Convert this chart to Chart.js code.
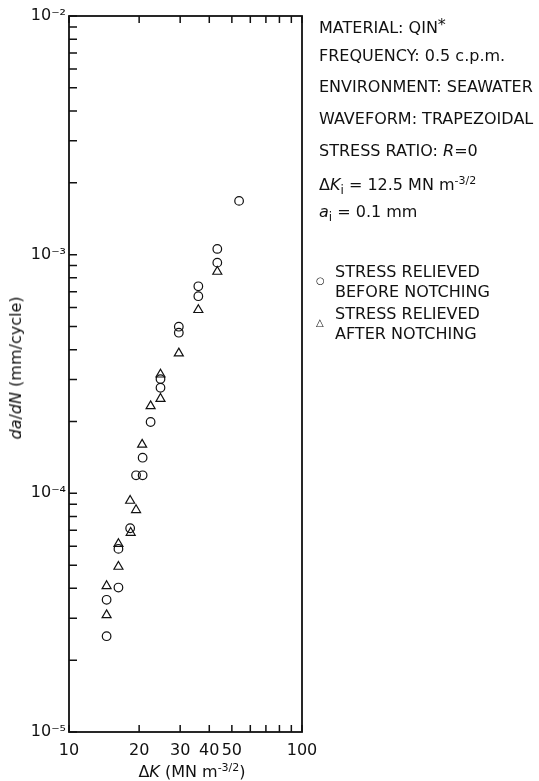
<!DOCTYPE html>
<html>
<head>
<meta charset="utf-8">
<script src="https://cdn.jsdelivr.net/npm/chart.js@4"></script>
<style>
html, body { margin: 0; padding: 0; background: #fff; }
#wrap { position: relative; width: 539px; height: 781px; }
#myChart { position: absolute; left: 0; top: 0; }
.txt { position: absolute; font-family: "DejaVu Sans", sans-serif; font-size: 16px; color: #111; white-space: nowrap; line-height: 1; }
.txt sup { font-size: 11px; vertical-align: 6px; }
.txt sub { font-size: 12px; vertical-align: -4px; }
.mk { position: absolute; font-family: "DejaVu Sans", sans-serif; font-size: 10px; color: #111; line-height: 1; }
</style>
</head>
<body>
<div id="wrap">
  <canvas id="myChart" width="539" height="781"></canvas>

  <div class="txt" style="left:319px;top:17px">MATERIAL: QIN<sup style="font-size:16px;vertical-align:3px">*</sup></div>
  <div class="txt" style="left:319px;top:48px">FREQUENCY: 0.5 c.p.m.</div>
  <div class="txt" style="left:319px;top:79px">ENVIRONMENT: SEAWATER</div>
  <div class="txt" style="left:319px;top:111px">WAVEFORM: TRAPEZOIDAL</div>
  <div class="txt" style="left:319px;top:143px">STRESS RATIO: <i>R</i>=0</div>
  <div class="txt" style="left:319px;top:175px">Δ<i>K</i><sub>i</sub> = 12.5 MN m<sup>-3/2</sup></div>
  <div class="txt" style="left:319px;top:204px"><i>a</i><sub>i</sub> = 0.1 mm</div>

  <div class="mk" style="left:316px;top:276px">○</div>
  <div class="txt" style="left:335px;top:264px">STRESS RELIEVED</div>
  <div class="txt" style="left:335px;top:284px">BEFORE NOTCHING</div>
  <div class="mk" style="left:316px;top:318px">△</div>
  <div class="txt" style="left:335px;top:306px">STRESS RELIEVED</div>
  <div class="txt" style="left:335px;top:326px">AFTER NOTCHING</div>

  <div class="txt" style="left:16px;top:368px;transform:translate(-50%,-50%) rotate(-90deg)"><i>da</i>/<i>dN</i> (mm/cycle)</div>
  <div class="txt" style="left:192px;top:771px;transform:translate(-50%,-50%)">Δ<i>K</i> (MN m<sup>-3/2</sup>)</div>
</div>

<script>
// stress relieved before notching (circles)
const beforeK = [14.5, 14.5, 16.3, 16.3, 18.3, 19.4, 20.7, 20.7, 22.4, 24.7, 24.7, 29.6, 29.6, 35.9, 35.9, 43.3, 43.3, 53.7];
const beforeRate = [2.52e-5, 3.58e-5, 4.03e-5, 5.85e-5, 7.14e-5, 1.19e-4, 1.19e-4, 1.41e-4, 1.99e-4, 2.77e-4, 3.01e-4, 4.71e-4, 4.99e-4, 6.7e-4, 7.37e-4, 9.26e-4, 1.057e-3, 1.68e-3];

// stress relieved after notching (triangles)
const afterK = [14.5, 14.5, 16.3, 16.3, 18.4, 18.3, 19.4, 20.6, 22.4, 24.7, 24.7, 29.6, 35.9, 43.3];
const afterRate = [3.09e-5, 4.09e-5, 4.93e-5, 6.14e-5, 6.84e-5, 9.32e-5, 8.52e-5, 1.6e-4, 2.32e-4, 2.49e-4, 3.15e-4, 3.86e-4, 5.87e-4, 8.49e-4];

const xLabels = [10, 20, 30, 40, 50, 100];
const yLabels = { '-5': '10⁻⁵', '-4': '10⁻⁴', '-3': '10⁻³', '-2': '10⁻²' };

const font = '"DejaVu Sans", sans-serif';

// mantissa of a log tick (1..9 for the ticks we want)
function mant(v) {
    const e = Math.floor(Math.log10(v) + 1e-9);
    return v / Math.pow(10, e);
}
function wholeMant(v) {
    const m = mant(v);
    return Math.abs(m - Math.round(m)) < 1e-6;
}

const frame = {
    id: 'frame',
    afterDraw(chart) {
        const ctx = chart.ctx;
        const a = chart.chartArea;
        const x = chart.scales.x, y = chart.scales.y;
        ctx.save();
        ctx.strokeStyle = '#111';
        ctx.lineWidth = 1.8;
        ctx.strokeRect(a.left, a.top, a.right - a.left, a.bottom - a.top);
        ctx.lineWidth = 1.5;
        ctx.beginPath();
        x.ticks.forEach(function (t) {
            if (!wholeMant(t.value)) return;
            const px = x.getPixelForValue(t.value);
            ctx.moveTo(px, a.bottom); ctx.lineTo(px, a.bottom - 7);
            ctx.moveTo(px, a.top); ctx.lineTo(px, a.top + 7);
        });
        y.ticks.forEach(function (t) {
            if (!wholeMant(t.value)) return;
            const py = y.getPixelForValue(t.value);
            ctx.moveTo(a.left, py); ctx.lineTo(a.left + 8, py);
        });
        ctx.stroke();
        ctx.restore();
    }
};

const pts = (xs, ys) => xs.map((v, i) => ({ x: v, y: ys[i] }));

const ctx = document.getElementById('myChart');
new Chart(ctx, {
    type: 'scatter',
    data: {
        datasets: [{
            label: 'STRESS RELIEVED BEFORE NOTCHING',
            data: pts(beforeK, beforeRate),
            pointStyle: 'circle',
            pointRadius: 4.3,
            borderColor: '#111',
            borderWidth: 1.2,
            backgroundColor: 'rgba(0,0,0,0)'
        }, {
            label: 'STRESS RELIEVED AFTER NOTCHING',
            data: pts(afterK, afterRate),
            pointStyle: 'triangle',
            pointRadius: 5.2,
            borderColor: '#111',
            borderWidth: 1.2,
            backgroundColor: 'rgba(0,0,0,0)'
        }]
    },
    options: {
        responsive: false,
        animation: false,
        layout: { padding: { top: 16, right: 237, left: 0, bottom: 0 } },
        plugins: { legend: { display: false }, tooltip: { enabled: false } },
        scales: {
            x: {
                type: 'logarithmic',
                min: 10,
                max: 100,
                grid: { display: false, drawTicks: false },
                border: { display: false },
                afterFit: function (s) { s.height = 49; },
                ticks: {
                    autoSkip: false,
                    maxRotation: 0,
                    padding: 9,
                    color: '#111',
                    font: { family: font, size: 16 },
                    callback: function (v) {
                        return xLabels.some(function (l) { return Math.abs(l - v) < 1e-6; }) ? String(Math.round(v)) : '';
                    }
                }
            },
            y: {
                type: 'logarithmic',
                min: 1e-5,
                max: 1e-2,
                grid: { display: false, drawTicks: false },
                border: { display: false },
                afterFit: function (s) { s.width = 69; },
                ticks: {
                    autoSkip: false,
                    padding: 3,
                    color: '#111',
                    font: { family: font, size: 16 },
                    callback: function (v) {
                        const m = mant(v);
                        if (Math.abs(m - 1) > 1e-6) return '';
                        return yLabels[String(Math.round(Math.log10(v)))] || '';
                    }
                }
            }
        }
    },
    plugins: [frame]
});
</script>
</body>
</html>
